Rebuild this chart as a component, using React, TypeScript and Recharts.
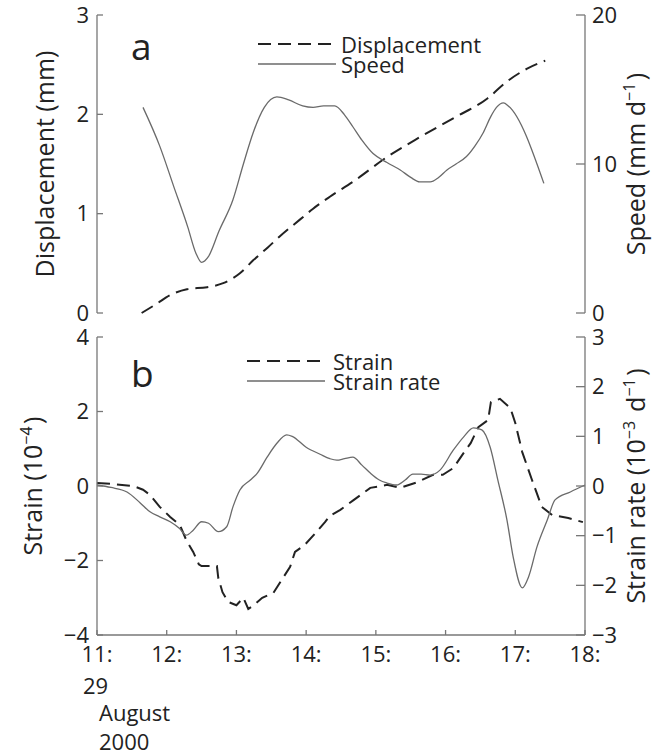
import React from "react";
import { LineChart, Line, XAxis, YAxis, Legend } from "recharts";

const FONT = '"Open Sans", sans-serif';
const INK = "#222";
const AXIS = "#777";

const hourTicks = [11, 12, 13, 14, 15, 16, 17, 18];
const dispTicks = [0, 1, 2, 3];
const speedTicks = [0, 10, 20];
const strainTicks = [-4, -2, 0, 2, 4];
const rateTicks = [-3, -2, -1, 0, 1, 2, 3];

// panel a
const dispHours = [11.64, 11.85, 12.05, 12.29, 12.58, 12.81, 13.05, 13.24, 13.45, 13.62, 13.91, 14.1, 14.34, 14.67, 15.16, 15.63, 16.11, 16.6, 16.88, 17.17, 17.43];
const dispMm = [0, 0.09, 0.18, 0.24, 0.26, 0.3, 0.4, 0.53, 0.66, 0.77, 0.94, 1.05, 1.17, 1.32, 1.57, 1.77, 1.96, 2.16, 2.33, 2.46, 2.54];

const speedHours = [11.66, 11.9, 12.1, 12.3, 12.42, 12.5, 12.6, 12.75, 12.95, 13.1, 13.24, 13.4, 13.58, 13.75, 13.95, 14.1, 14.25, 14.41, 14.55, 14.67, 14.8, 14.96, 15.16, 15.35, 15.5, 15.63, 15.78, 15.9, 16.02, 16.15, 16.3, 16.42, 16.54, 16.65, 16.73, 16.83, 16.9, 17.41];
const speedMmD = [13.8, 11.2, 8.5, 5.8, 4.0, 3.4, 3.8, 5.5, 7.6, 10.0, 12.1, 13.8, 14.5, 14.3, 13.9, 13.8, 13.9, 13.9, 13.3, 12.5, 11.6, 10.7, 10.1, 9.6, 9.1, 8.8, 8.8, 9.1, 9.6, 10.0, 10.5, 11.2, 12.1, 13.2, 13.8, 14.1, 13.9, 8.7];

// panel b
const strainHours = [11.0, 11.25, 11.52, 11.66, 11.76, 11.9, 12.05, 12.19, 12.28, 12.38, 12.46, 12.5, 12.72, 12.74, 12.8, 12.88, 13.0, 13.1, 13.17, 13.25, 13.37, 13.53, 13.65, 13.77, 13.84, 13.98, 14.15, 14.27, 14.34, 14.49, 14.68, 14.92, 15.16, 15.35, 15.59, 15.82, 15.96, 16.11, 16.26, 16.36, 16.47, 16.61, 16.65, 16.78, 16.93, 17.0, 17.1, 17.24, 17.38, 17.53, 17.76, 17.97];
const strainE4 = [0.08, 0.05, 0.0, -0.1, -0.24, -0.56, -0.83, -1.05, -1.45, -1.77, -2.1, -2.15, -2.15, -2.47, -2.85, -3.11, -3.2, -3.0, -3.3, -3.2, -3.0, -2.87, -2.52, -2.17, -1.77, -1.58, -1.23, -0.97, -0.8, -0.64, -0.38, -0.05, 0.03, -0.05, 0.1, 0.3, 0.3, 0.48, 0.89, 1.15, 1.58, 1.77, 2.25, 2.34, 2.09, 1.69, 0.91, 0.16, -0.56, -0.78, -0.86, -0.97];

const rateHours = [11.0, 11.2, 11.43, 11.62, 11.76, 11.9, 12.05, 12.18, 12.28, 12.38, 12.5, 12.6, 12.74, 12.86, 12.95, 13.05, 13.2, 13.3, 13.44, 13.58, 13.72, 13.8, 14.0, 14.2, 14.34, 14.44, 14.55, 14.67, 14.8, 14.92, 15.05, 15.16, 15.3, 15.42, 15.53, 15.65, 15.78, 15.92, 16.11, 16.26, 16.4, 16.52, 16.64, 16.75, 16.88, 16.97, 17.1, 17.19, 17.31, 17.46, 17.57, 17.79, 18.0];
const rateE3 = [0.02, -0.03, -0.12, -0.34, -0.52, -0.62, -0.72, -0.85, -0.99, -0.89, -0.72, -0.75, -0.92, -0.82, -0.42, -0.08, 0.12, 0.26, 0.58, 0.86, 1.03, 1.0, 0.78, 0.64, 0.55, 0.52, 0.55, 0.58, 0.42, 0.26, 0.12, 0.06, 0.02, 0.12, 0.24, 0.24, 0.22, 0.32, 0.72, 0.99, 1.17, 1.13, 0.78, 0.12, -0.68, -1.43, -2.05, -1.83, -1.23, -0.68, -0.28, -0.12, 0.02];

const zip = (ts: number[], vs: number[]) => ts.map((t, i) => ({ t, v: vs[i] }));

const blank = () => "";
const minus = (v: number) => (v < 0 ? `\u2212${-v}` : `${v}`);
const tickFont = { fontSize: 22, fill: INK, fontFamily: FONT };
const axisLine = { stroke: AXIS, strokeWidth: 1.3 };

const LegendBox = ({ payload, gap }: any) => (
  <div style={{ fontFamily: FONT, fontSize: 22, color: INK }}>
    {(payload || []).map((entry: any) => (
      <div key={entry.value} style={{ display: "flex", alignItems: "center", height: 20, whiteSpace: "nowrap" }}>
        <svg width={78} height={6}>
          <line x1={0} y1={3} x2={78} y2={3} stroke={entry.color}
            strokeWidth={entry.payload?.strokeWidth ?? 1.5}
            strokeDasharray={entry.payload?.strokeDasharray} />
        </svg>
        <span style={{ marginLeft: gap, lineHeight: "20px" }}>{entry.value}</span>
      </div>
    ))}
  </div>
);

const AxisTitle = ({ viewBox, x, children }: any) => {
  const cy = viewBox ? viewBox.y + viewBox.height / 2 : 0;
  return (
    <text transform={`translate(${x},${cy}) rotate(-90)`} textAnchor="middle"
      fontSize={25} fontFamily={FONT} fill={INK}>
      {children}
    </text>
  );
};

const Sup = ({ s }: { s: string }) => (
  <>
    <tspan dy={-10} fontSize={16}>{s}</tspan>
    <tspan dy={10}>{"\u200A"}</tspan>
  </>
);

const HourTick = ({ x, y, payload }: any) => {
  const v = payload.value;
  return (
    <g fontFamily={FONT} fontSize={22} fill={INK}>
      <text x={x} y={y + 27} textAnchor="middle">{`${v}:`}</text>
      {v === 11 && (
        <>
          <text x={x - 14} y={y + 59}>29</text>
          <text x={x + 2} y={y + 86}>August</text>
          <text x={x + 2} y={y + 115}>2000</text>
        </>
      )}
    </g>
  );
};

export default function App() {
  return (
    <div style={{ position: "absolute", left: 0, top: 0, width: 652, height: 755, background: "#fff" }}>
      <div style={{ position: "absolute", left: 0, top: 0 }}>
        <LineChart width={652} height={330} margin={{ top: 15, right: 0, bottom: 17, left: 0 }}>
          <XAxis type="number" dataKey="t" domain={[11, 18]} ticks={hourTicks} interval={0} height={0}
            tickSize={-5} tickFormatter={blank} axisLine={axisLine} tickLine={axisLine} />
          <XAxis xAxisId="top" orientation="top" type="number" dataKey="t" domain={[11, 18]} ticks={hourTicks}
            interval={0} height={0} tickSize={-5} tickFormatter={blank} axisLine={axisLine} tickLine={axisLine} />
          <YAxis yAxisId="left" domain={[0, 3]} ticks={dispTicks} interval={0} width={97} tickSize={-6}
            tickMargin={14} tick={tickFont} axisLine={axisLine} tickLine={axisLine}
            label={{ content: (p: any) => <AxisTitle viewBox={p.viewBox} x={54}>Displacement (mm)</AxisTitle> }} />
          <YAxis yAxisId="right" orientation="right" domain={[0, 20]} ticks={speedTicks} interval={0} width={67}
            tickSize={-9} tickMargin={16} tick={tickFont} axisLine={axisLine} tickLine={axisLine}
            label={{ content: (p: any) => (
              <AxisTitle viewBox={p.viewBox} x={645}>Speed (mm d<Sup s={"\u22121"} />)</AxisTitle>
            ) }} />
          <Legend layout="vertical" align="center" verticalAlign="middle"
            wrapperStyle={{ left: 258, top: 34, width: 260 }}
            content={(p: any) => <LegendBox payload={p.payload} gap={5} />} />
          <Line name="Displacement" data={zip(dispHours, dispMm)} dataKey="v" yAxisId="left" type="monotone"
            stroke="#222" strokeWidth={2} strokeDasharray="13 7" dot={false} activeDot={false} isAnimationActive={false} />
          <Line name="Speed" data={zip(speedHours, speedMmD)} dataKey="v" yAxisId="right" type="monotone"
            stroke="#6a6a6a" strokeWidth={1.3} dot={false} activeDot={false} isAnimationActive={false} />
        </LineChart>
      </div>
      <div style={{ position: "absolute", left: 0, top: 320 }}>
        <LineChart width={652} height={435} margin={{ top: 17, right: 0, bottom: 0, left: 0 }}>
          <XAxis type="number" dataKey="t" domain={[11, 18]} ticks={hourTicks} interval={0} height={120}
            tickSize={-5} tickMargin={5} axisLine={axisLine} tickLine={axisLine}
            tick={(p: any) => <HourTick {...p} />} />
          <XAxis xAxisId="top" orientation="top" type="number" dataKey="t" domain={[11, 18]} ticks={hourTicks}
            interval={0} height={0} tickSize={-5} tickFormatter={blank} axisLine={axisLine} tickLine={axisLine} />
          <YAxis yAxisId="left" domain={[-4, 4]} ticks={strainTicks} interval={0} width={97} tickSize={-6}
            tickMargin={14} tick={tickFont} tickFormatter={minus} axisLine={axisLine} tickLine={axisLine}
            label={{ content: (p: any) => (
              <AxisTitle viewBox={p.viewBox} x={42}>Strain (10<Sup s={"\u22124"} />)</AxisTitle>
            ) }} />
          <YAxis yAxisId="right" orientation="right" domain={[-3, 3]} ticks={rateTicks} interval={0} width={67}
            tickSize={-9} tickMargin={16} tick={tickFont} tickFormatter={minus} axisLine={axisLine} tickLine={axisLine}
            label={{ content: (p: any) => (
              <AxisTitle viewBox={p.viewBox} x={645}>
                Strain rate (10<Sup s={"\u22123"} /> d<Sup s={"\u22121"} />)
              </AxisTitle>
            ) }} />
          <Legend layout="vertical" align="center" verticalAlign="middle"
            wrapperStyle={{ left: 247, top: 31, width: 260 }}
            content={(p: any) => <LegendBox payload={p.payload} gap={8} />} />
          <Line name="Strain" data={zip(strainHours, strainE4)} dataKey="v" yAxisId="left" type="linear"
            stroke="#222" strokeWidth={2} strokeDasharray="13 7" dot={false} activeDot={false} isAnimationActive={false} />
          <Line name="Strain rate" data={zip(rateHours, rateE3)} dataKey="v" yAxisId="right" type="monotone"
            stroke="#6a6a6a" strokeWidth={1.3} dot={false} activeDot={false} isAnimationActive={false} />
        </LineChart>
      </div>
      <svg width={652} height={755} style={{ position: "absolute", left: 0, top: 0, pointerEvents: "none" }}>
        <text x={131} y={60} fontSize={37} fontFamily={FONT} fill={INK}>a</text>
        <text x={131} y={387} fontSize={37} fontFamily={FONT} fill={INK}>b</text>
      </svg>
    </div>
  );
}
